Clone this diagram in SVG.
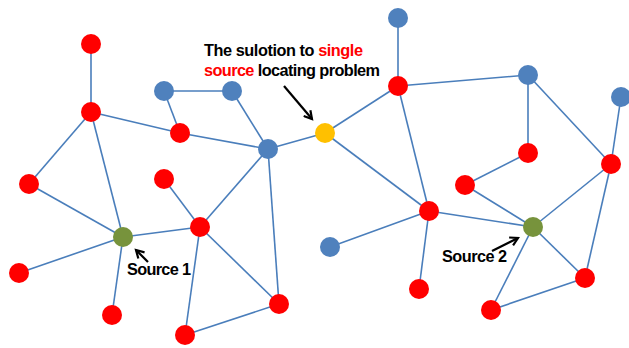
<svg xmlns="http://www.w3.org/2000/svg" width="629" height="348" viewBox="0 0 629 348">
<defs>
<style>
.e{stroke:#4a7ebb;stroke-width:1.6;fill:none}
.r{fill:#ff0000}
.b{fill:#4f81bd}
.g{fill:#77933c}
.y{fill:#ffc000}
.t{font-family:"Liberation Sans",Arial,sans-serif;font-weight:bold;font-size:16.3px;fill:#000}
.red{fill:#ff0000}
.a{stroke:#000;stroke-width:2.2;fill:none}
</style>
<marker id="ah" viewBox="0 0 10 10" refX="8" refY="5" markerWidth="5" markerHeight="5" orient="auto" markerUnits="strokeWidth">
<path d="M1,1 L8,5 L1,9" fill="none" stroke="#000" stroke-width="2"/>
</marker>
</defs>
<rect width="629" height="348" fill="#fff"/>
<g id="connectors">
<line class="e" x1="91" y1="44" x2="91" y2="112"/>
<line class="e" x1="91" y1="112" x2="180" y2="133"/>
<line class="e" x1="91" y1="112" x2="29" y2="184"/>
<line class="e" x1="91" y1="112" x2="123" y2="237"/>
<line class="e" x1="29" y1="184" x2="123" y2="237"/>
<line class="e" x1="164" y1="91" x2="232" y2="91"/>
<line class="e" x1="164" y1="91" x2="180" y2="133"/>
<line class="e" x1="232" y1="91" x2="268" y2="149"/>
<line class="e" x1="180" y1="133" x2="268" y2="149"/>
<line class="e" x1="268" y1="149" x2="325" y2="133"/>
<line class="e" x1="268" y1="149" x2="200" y2="227"/>
<line class="e" x1="268" y1="149" x2="279" y2="304"/>
<line class="e" x1="164" y1="179" x2="200" y2="227"/>
<line class="e" x1="123" y1="237" x2="200" y2="227"/>
<line class="e" x1="123" y1="237" x2="19" y2="273"/>
<line class="e" x1="123" y1="237" x2="112" y2="315"/>
<line class="e" x1="200" y1="227" x2="185" y2="335"/>
<line class="e" x1="200" y1="227" x2="279" y2="304"/>
<line class="e" x1="185" y1="335" x2="279" y2="304"/>
<line class="e" x1="325" y1="133" x2="398" y2="86"/>
<line class="e" x1="325" y1="133" x2="429" y2="211"/>
<line class="e" x1="398" y1="86" x2="398" y2="18"/>
<line class="e" x1="398" y1="86" x2="528" y2="75"/>
<line class="e" x1="398" y1="86" x2="429" y2="211"/>
<line class="e" x1="528" y1="75" x2="528" y2="153"/>
<line class="e" x1="528" y1="75" x2="611" y2="164"/>
<line class="e" x1="621" y1="97" x2="611" y2="164"/>
<line class="e" x1="528" y1="153" x2="465" y2="185"/>
<line class="e" x1="465" y1="185" x2="533" y2="227"/>
<line class="e" x1="429" y1="211" x2="533" y2="227"/>
<line class="e" x1="429" y1="211" x2="330" y2="247"/>
<line class="e" x1="429" y1="211" x2="419" y2="289"/>
<line class="e" x1="533" y1="227" x2="611" y2="164"/>
<line class="e" x1="533" y1="227" x2="585" y2="278"/>
<line class="e" x1="533" y1="227" x2="491" y2="310"/>
<line class="e" x1="611" y1="164" x2="585" y2="278"/>
<line class="e" x1="585" y1="278" x2="491" y2="310"/>
</g>
<g id="n1"><circle class="r" cx="91" cy="44" r="10"/></g>
<g id="n2"><circle class="r" cx="91" cy="112" r="10"/></g>
<g id="n3"><circle class="b" cx="164" cy="91" r="10"/></g>
<g id="n4"><circle class="b" cx="232" cy="91" r="10"/></g>
<g id="n5"><circle class="r" cx="180" cy="133" r="10"/></g>
<g id="n6"><circle class="b" cx="268" cy="149" r="10"/></g>
<g id="n7"><circle class="r" cx="29" cy="184" r="10"/></g>
<g id="n8"><circle class="r" cx="164" cy="179" r="10"/></g>
<g id="source1"><circle class="g" cx="123" cy="237" r="10"/></g>
<g id="n9"><circle class="r" cx="200" cy="227" r="10"/></g>
<g id="n10"><circle class="r" cx="19" cy="273" r="10"/></g>
<g id="n11"><circle class="r" cx="112" cy="315" r="10"/></g>
<g id="n12"><circle class="r" cx="279" cy="304" r="10"/></g>
<g id="n13"><circle class="r" cx="185" cy="335" r="10"/></g>
<g id="solution"><circle class="y" cx="325" cy="133" r="10"/></g>
<g id="n14"><circle class="b" cx="398" cy="18" r="10"/></g>
<g id="n15"><circle class="r" cx="398" cy="86" r="10"/></g>
<g id="n16"><circle class="b" cx="528" cy="75" r="10"/></g>
<g id="n17"><circle class="b" cx="621" cy="97" r="10"/></g>
<g id="n18"><circle class="r" cx="528" cy="153" r="10"/></g>
<g id="n19"><circle class="r" cx="611" cy="164" r="10"/></g>
<g id="n20"><circle class="r" cx="465" cy="185" r="10"/></g>
<g id="n21"><circle class="r" cx="429" cy="211" r="10"/></g>
<g id="source2"><circle class="g" cx="533" cy="227" r="10"/></g>
<g id="n22"><circle class="b" cx="330" cy="247" r="10"/></g>
<g id="n23"><circle class="r" cx="419" cy="289" r="10"/></g>
<g id="n24"><circle class="r" cx="585" cy="278" r="10"/></g>
<g id="n25"><circle class="r" cx="491" cy="310" r="10"/></g>
<g id="labels">
<text class="t" x="204" y="56" textLength="159">The sulotion to <tspan class="red">single</tspan></text>
<text class="t" x="204" y="76" textLength="176"><tspan class="red">source</tspan> locating problem</text>
<line class="a" x1="284" y1="86" x2="312" y2="119" marker-end="url(#ah)"/>
<text class="t" x="127" y="275" textLength="64">Source 1</text>
<line class="a" x1="148" y1="262" x2="136" y2="250" marker-end="url(#ah)"/>
<text class="t" x="442" y="262" textLength="65">Source 2</text>
<line class="a" x1="492" y1="251" x2="518" y2="238" marker-end="url(#ah)"/>
</g>
</svg>
